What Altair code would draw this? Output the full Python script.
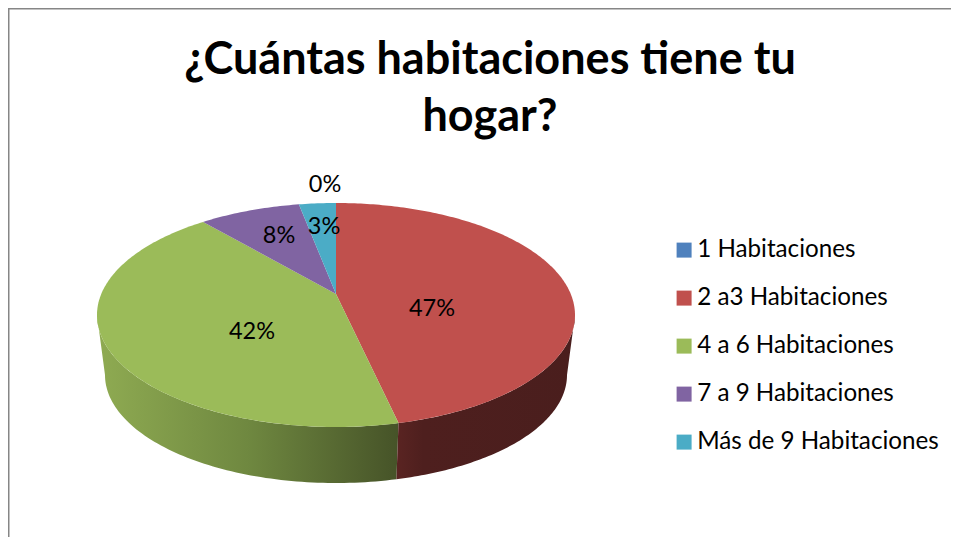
import math
import altair as alt

categories = ["1 Habitaciones", "2 a3 Habitaciones", "4 a 6 Habitaciones", "7 a 9 Habitaciones", "Más de 9 Habitaciones"]
shares = [0.0, 46.51, 42.29, 8.2, 3.0]
colors = ["#4f81bd", "#c0504d", "#9bbb59", "#8064a2", "#4bacc6"]
title_lines = ["¿Cuántas habitaciones tiene tu", "hogar?"]

W, H = 943, 529
FONT = "Lato"
# page position -> chart position
OX, OY = 8, 8
CX, CY, A, B = 336 - OX, 315 - OY, 239, 112     # top ellipse
APEX = 21                                        # apex sits this far above ellipse centre
A2, B2, CY2 = 231, 108, 375 - OY                 # bottom rim
P = APEX / B
AK = A * math.sqrt(1 - P * P)


def rim(theta):
    u, v = math.sin(theta), math.cos(theta)
    d = 1 + P * v
    return CX + AK * u / d, CY - (B * v + APEX) / d


def rim_param(theta):
    x, y = rim(theta)
    return math.atan2((CY - y) / B, (x - CX) / A)


def feature(ring, **props):
    return {"type": "Feature", "properties": props,
            "geometry": {"type": "Polygon", "coordinates": [ring]}}


wedges = []
cum = 0.0
theta_edges = []
for cat, s in zip(categories, shares):
    t0 = cum / 100 * 2 * math.pi
    cum += s
    t1 = cum / 100 * 2 * math.pi
    theta_edges.append(t1)
    n = max(2, int(s * 4))
    ring = [[CX, CY - APEX]] + [list(rim(t0 + (t1 - t0) * i / n)) for i in range(n + 1)] + [[CX, CY - APEX]]
    wedges.append(feature(ring, cat=cat))


def wall(t_from, t_to, n=80):
    ts = [t_from + (t_to - t_from) * i / n for i in range(n + 1)]
    top = [[CX + A * math.cos(t), CY - B * math.sin(t)] for t in ts]
    bottom = [[CX + A2 * math.cos(t), CY2 - B2 * math.sin(t)] for t in reversed(ts)]
    return feature(top + bottom + [top[0]])


t_red_green = rim_param(theta_edges[1])
if t_red_green > 0:
    t_red_green -= 2 * math.pi
PROJ = dict(type="identity", scale=1, translate=[0, 0])

green_wall = alt.Chart(alt.Data(values=[wall(-math.pi, t_red_green)])).mark_geoshape(
    fill=alt.Gradient(gradient="linear", x1=0, x2=1, y1=0, y2=0, stops=[
        alt.GradientStop(offset=0, color="#8fab52"),
        alt.GradientStop(offset=0.5, color="#6f8840"),
        alt.GradientStop(offset=1, color="#465328"),
    ]), strokeWidth=0).project(**PROJ)
red_wall = alt.Chart(alt.Data(values=[wall(t_red_green, 0)])).mark_geoshape(
    fill=alt.Gradient(gradient="linear", x1=0, x2=1, y1=0, y2=0, stops=[
        alt.GradientStop(offset=0, color="#5a2422"),
        alt.GradientStop(offset=0.15, color="#4e1f1e"),
        alt.GradientStop(offset=1, color="#4a1e1d"),
    ]), strokeWidth=0).project(**PROJ)

top_face = alt.Chart(alt.Data(values=wedges)).mark_geoshape(strokeWidth=0).encode(
    color=alt.Color("properties.cat:N",
                    scale=alt.Scale(domain=categories, range=colors),
                    legend=alt.Legend(title=None, orient="none", legendX=672 - OX, legendY=238 - OY,
                                      symbolType="square", symbolSize=225, symbolStrokeWidth=0,
                                      symbolOpacity=1, labelFont=FONT, labelFontSize=24.2, labelColor="#000000",
                                      labelLimit=300, labelOffset=1, rowPadding=23, padding=0,
                                      values=categories))
).project(**PROJ)

# label centres (page pixels) in category order
label_spots = {1: (432, 309), 2: (252, 332), 3: (279, 236), 4: (324, 227), 0: (325, 185)}
base = alt.Chart(alt.Data(values=[{"v": 0}]))
labels = []
for i, s in enumerate(shares):
    px, py = label_spots[i]
    labels.append(base.mark_text(font=FONT, fontSize=23.5, color="#000000", align="center", baseline="middle").encode(
        x=alt.value(px - OX), y=alt.value(py - OY), text=alt.value(f"{round(s)}%")))

frame_color = "#868686"
frame = [
    base.mark_rule(color=frame_color, strokeWidth=1.5).encode(x=alt.value(0.75), y=alt.value(0), y2=alt.value(H)),
    base.mark_rule(color=frame_color, strokeWidth=1.5).encode(y=alt.value(0.75), x=alt.value(0), x2=alt.value(W)),
]

chart = alt.layer(*frame, green_wall, red_wall, top_face, *labels).properties(
    width=W, height=H, padding=0,
    autosize=alt.AutoSizeParams(type="none"),
    background="white",
    title=alt.TitleParams(text=title_lines, font=FONT, fontSize=45, fontWeight="bold", color="#000000",
                          lineHeight=57, anchor="middle", frame="group", dx=10.5, offset=-133),
).configure_view(stroke=None)

chart.save("out.html", embed_options={"renderer": "svg", "actions": False})
